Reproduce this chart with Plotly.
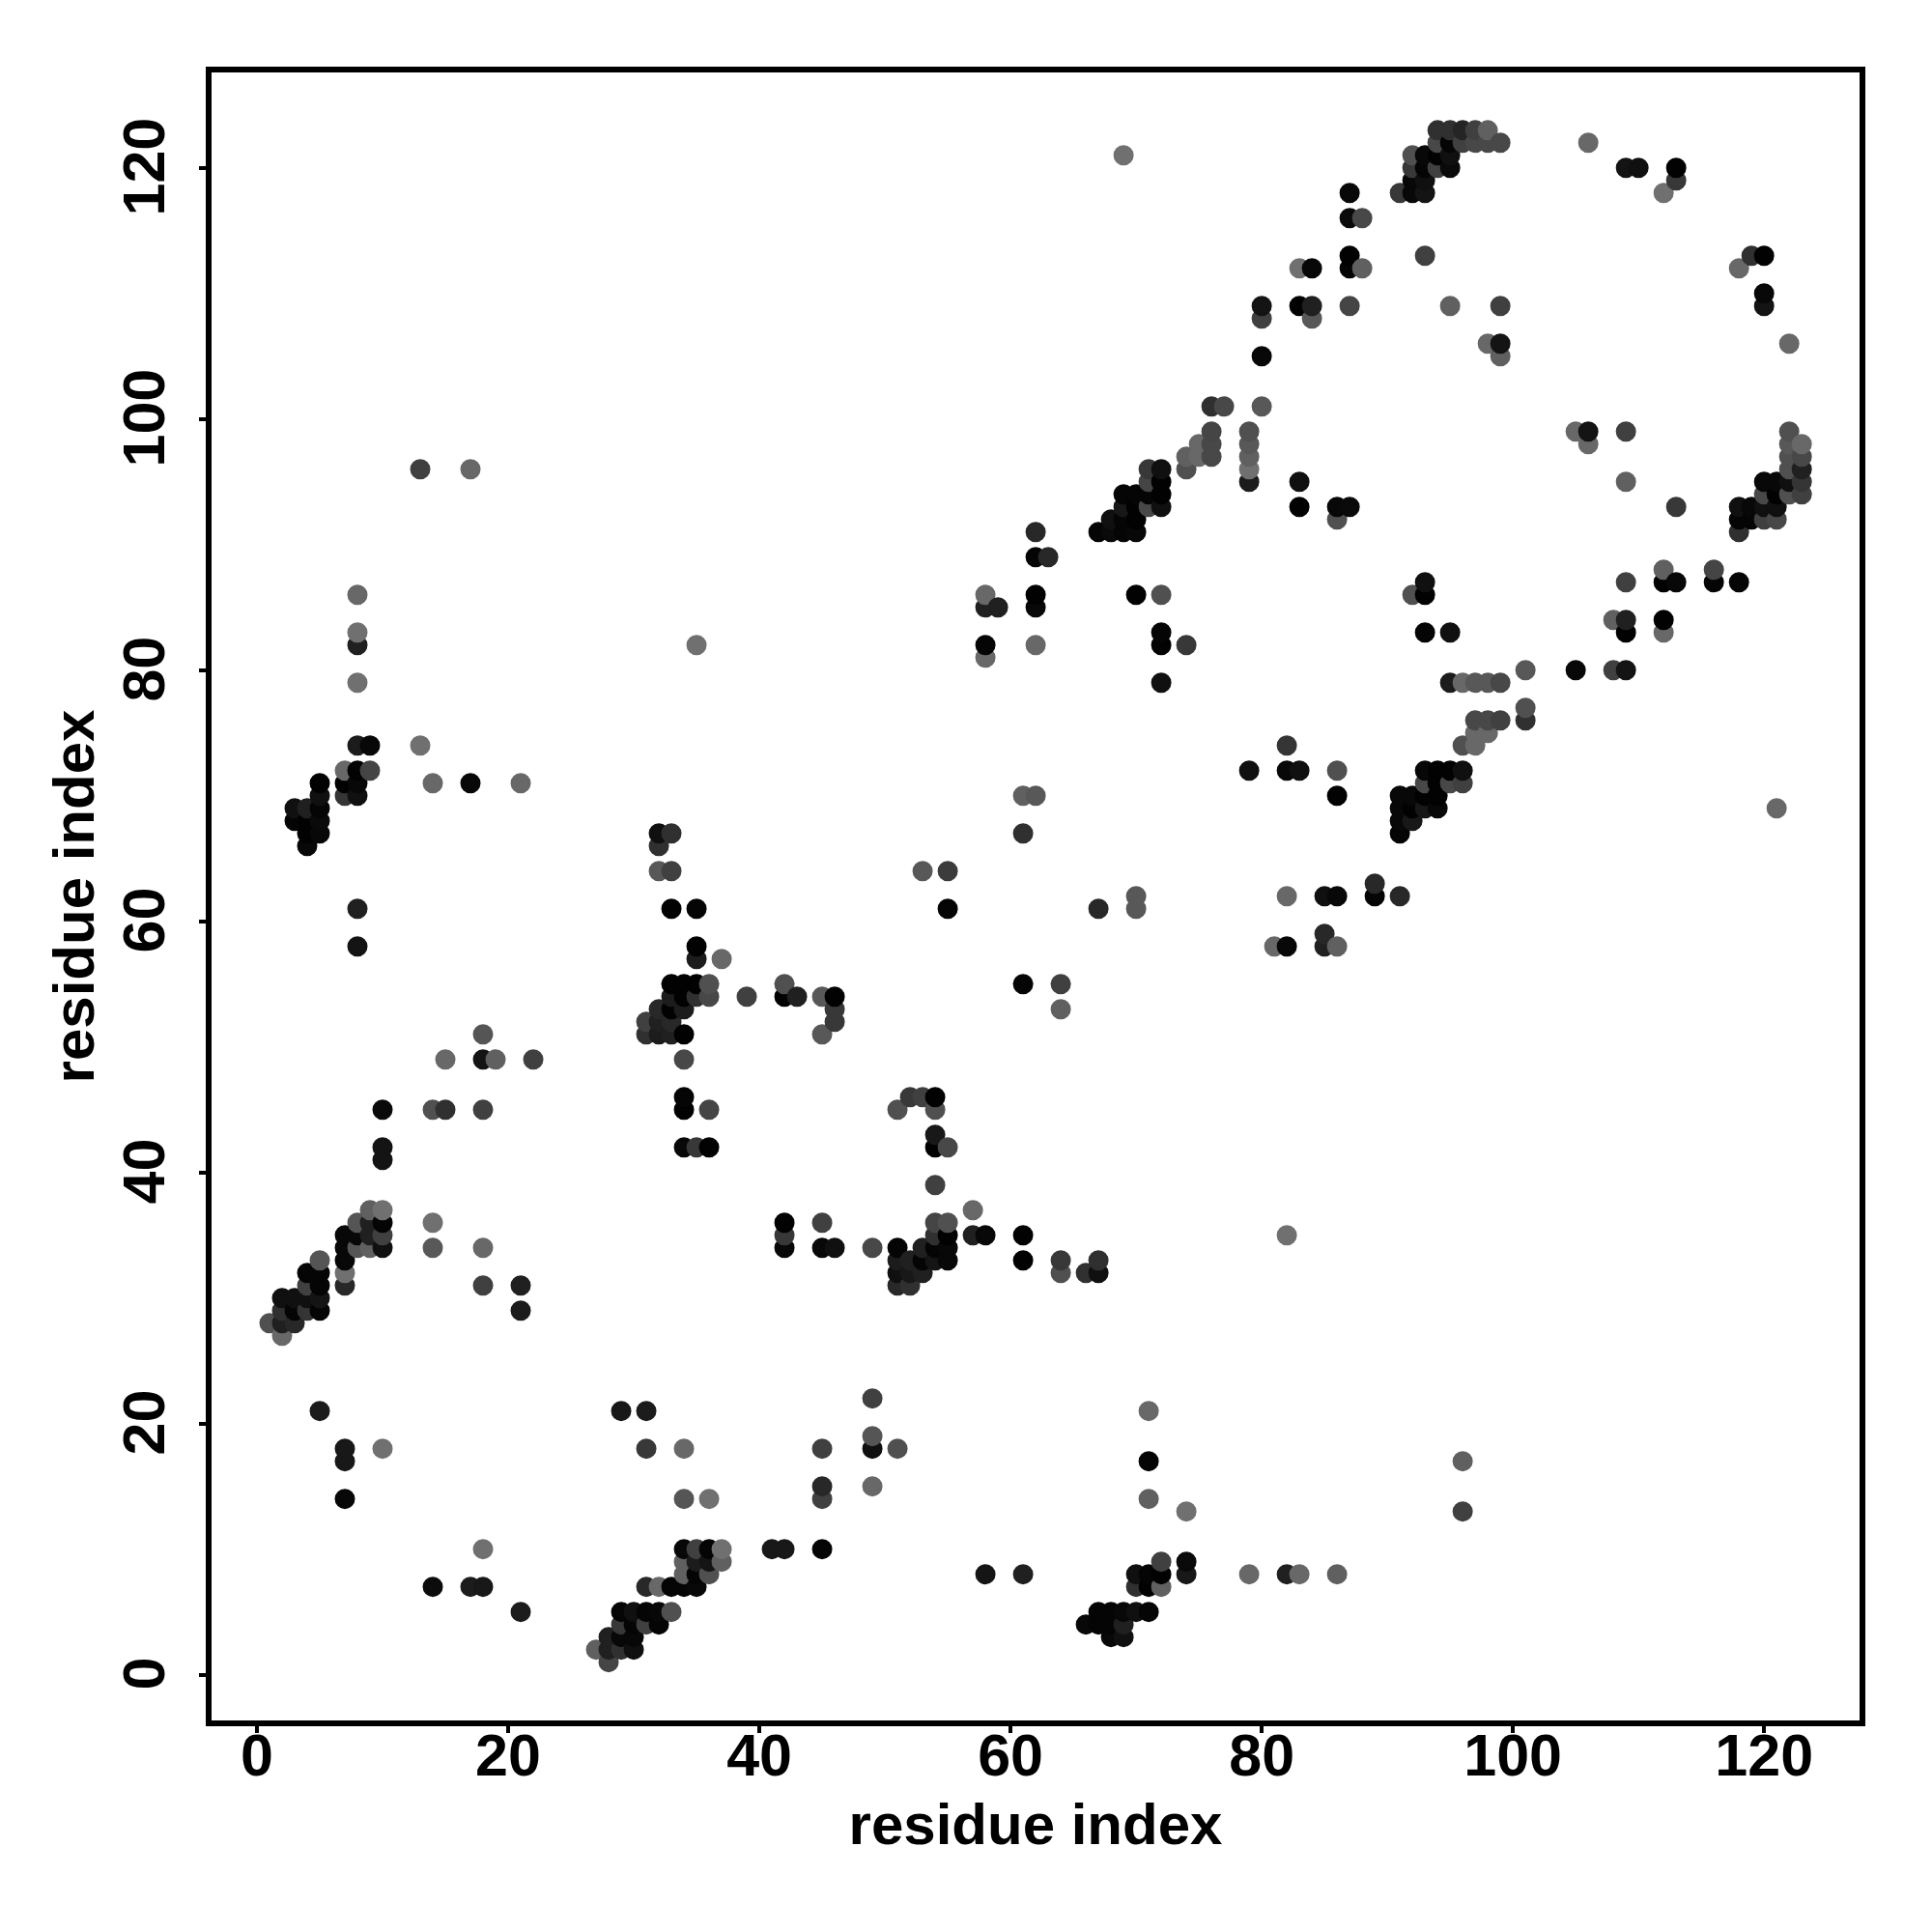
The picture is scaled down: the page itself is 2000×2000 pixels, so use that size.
import plotly.graph_objects as go

tick_values = [0, 20, 40, 60, 80, 100, 120]
axis_title = "residue index"

row_y = [123,122,121,120,119,118,116,113,112,110,109,108,106,105,101,99,98,97,96,95,94,93,92,91,89,88,87,86,85,84,83,82,81,80,79,77,76,75,74,72,71,70,69,68,67,66,64,63,62,61,59,58,57,55,54,53,52,51,49,46,45,43,42,41,39,37,36,35,34,33,32,31,30,29,28,27,22,21,19,18,17,15,14,13,10,9,8,7,5,4,3,2,1]

row_x = [
[94,95,96,97,98],
[94,95,96,97,98,99,106],
[69,92,93,94,95],
[92,93,94,95,109,110,113],
[92,93,113],
[87,91,92,93,112],
[87,88],
[87,93,119,120],
[83,84,87,88,118],
[120],
[80,83,84,87,95,99,120],
[80,84],
[98,99,122],
[80,99],
[76,77,80],
[76,79,105,106,109,122],
[75,76,79,106,122,123],
[74,75,76,79,122,123],
[13,17,71,72,74,79,122,123],
[71,72,79,83,109,120,121,122,123],
[69,70,71,72,120,121,122,123],
[69,70,71,72,83,86,87,113,118,119,120,121],
[68,69,70,86,118,119,120,121],
[62,67,68,69,70,118],
[62,63],
[112,116],
[93,109,112,113,116,118],
[8,58,62,70,72,92,93],
[58,59,62],
[108,109,112],
[8,72,93,95,109,112],
[8,35,58,62,72,74],
[58],
[101,105,108,109],
[8,72,95,96,97,98,99],
[101],
[97,98,99,101],
[97,98],
[8,9,13,82,96,97],
[7,8,9,79,82,83,86,93,94,95,96],
[5,7,8,14,17,21,93,94,95,96],
[5,7,8,61,62,86,91,92,93,94],
[3,4,5,91,92,93,94,121],
[3,4,5,91,92],
[4,5,32,33,61,91],
[4,32],
[32,33,53,55],
[89],
[70,82,85,86,89,91],
[8,33,35,55,67,70],
[85],
[8,35,81,82,85,86],
[35,37],
[33,34,35,36,42,61,64],
[33,34,35,36,39,42,43,45,46],
[32,33,34,46,64],
[31,32,33,46],
[18,31,32,33,34,45],
[15,18,19,22,34],
[34,52,53,54],
[10,14,15,18,34,36,51,54],
[54],
[10,34,35,36,54,55],
[10],
[54],
[9,10,57],
[8,9,10,14,42,45,54,55],
[7,8,9,10,42,54,55,57,58,61,82],
[7,8,9,10,14,18,42,45,46,49,51,53,54,55],
[5,7,51,52,53,54,55,61,64,67],
[4,5,7,51,52,53,64,66,67],
[4,5,7,18,21,51,52],
[2,3,4,5],
[2,3,4,5,21],
[1,2,3],
[2],
[49],
[5,29,31,71],
[49],
[7,10,31,34,45,49,51],
[7,71,96],
[45,49],
[7,34,36,45,71],
[74,96],
[18,34,35,36,37,41,42,45],
[34,35,36,37,72,74],
[34,35,36,58,61,70,71,72,74,79,82,83,86],
[14,17,18,31,32,33,34,35,70,71,72],
[21,29,30,31,32,33,67,68,69,70,71],
[29,30,31,32,66,67,68,69],
[28,29,30,68,69],
[27,28,29,30],
[28],
]

row_shade = [
[0x30,0x30,0x25,0x40,0x60],
[0x48,0x05,0x40,0x48,0x48,0x48,0x68],
[0x70,0x50,0x08,0x02,0x10],
[0x38,0x05,0x40,0x0a,0x14,0x10,0x02],
[0x08,0x10,0x38],
[0x08,0x38,0x08,0x14,0x70],
[0x0a,0x48],
[0x02,0x40,0x30,0x02],
[0x70,0x08,0x05,0x60,0x68],
[0x08],
[0x14,0x02,0x20,0x45,0x60,0x40,0x14],
[0x40,0x58],
[0x68,0x14,0x68],
[0x08,0x60],
[0x30,0x48,0x58],
[0x45,0x50,0x68,0x14,0x40,0x50],
[0x68,0x48,0x58,0x68,0x58,0x68],
[0x60,0x68,0x48,0x60,0x50,0x48],
[0x40,0x68,0x38,0x10,0x50,0x70,0x50,0x20],
[0x45,0x02,0x1c,0x10,0x60,0x08,0x08,0x10,0x35],
[0x05,0x05,0x05,0x02,0x48,0x02,0x50,0x40],
[0x18,0x02,0x48,0x10,0x02,0x08,0x0a,0x38,0x10,0x08,0x10,0x10],
[0x10,0x05,0x02,0x50,0x05,0x05,0x40,0x48],
[0x28,0x05,0x0a,0x05,0x08,0x30],
[0x05,0x28],
[0x60,0x45],
[0x10,0x40,0x02,0x08,0x05,0x05],
[0x68,0x68,0x02,0x02,0x50,0x50,0x02],
[0x20,0x20,0x08],
[0x60,0x20,0x02],
[0x70,0x05,0x05,0x10,0x02,0x68],
[0x20,0x70,0x05,0x68,0x02,0x38],
[0x68],
[0x58,0x08,0x40,0x14],
[0x70,0x10,0x1c,0x68,0x58,0x58,0x48],
[0x50],
[0x48,0x48,0x40,0x30],
[0x68,0x68],
[0x1c,0x08,0x70,0x35,0x50,0x68],
[0x68,0x02,0x45,0x10,0x08,0x10,0x50,0x08,0x02,0x02,0x10],
[0x02,0x02,0x08,0x68,0x08,0x68,0x48,0x02,0x48,0x40],
[0x10,0x35,0x10,0x60,0x58,0x02,0x08,0x08,0x02,0x02],
[0x10,0x20,0x05,0x08,0x02,0x18,0x08,0x68],
[0x05,0x02,0x0a,0x08,0x18],
[0x02,0x08,0x10,0x30,0x30,0x05],
[0x08,0x30],
[0x58,0x40,0x58,0x3c],
[0x28],
[0x58,0x68,0x10,0x08,0x05,0x28],
[0x20,0x02,0x05,0x05,0x28,0x58],
[0x28],
[0x14,0x02,0x68,0x08,0x20,0x60],
[0x1c,0x68],
[0x02,0x02,0x02,0x50,0x50,0x05,0x40],
[0x1c,0x02,0x30,0x48,0x40,0x02,0x20,0x58,0x02],
[0x28,0x02,0x1c,0x38,0x60],
[0x40,0x20,0x28,0x38],
[0x55,0x30,0x1c,0x20,0x02,0x58],
[0x68,0x14,0x60,0x40,0x48],
[0x05,0x38,0x40,0x02],
[0x0a,0x50,0x30,0x40,0x02,0x45,0x50,0x50],
[0x18],
[0x14,0x08,0x38,0x02,0x02,0x48],
[0x14],
[0x40],
[0x60,0x70,0x68],
[0x55,0x20,0x05,0x70,0x02,0x40,0x45,0x50],
[0x08,0x08,0x20,0x40,0x38,0x30,0x02,0x20,0x08,0x02,0x70],
[0x08,0x55,0x60,0x10,0x58,0x68,0x08,0x08,0x10,0x48,0x05,0x20,0x05,0x08],
[0x55,0x08,0x1c,0x20,0x05,0x15,0x08,0x02,0x38,0x30],
[0x05,0x05,0x70,0x10,0x18,0x20,0x50,0x30,0x10],
[0x40,0x05,0x28,0x40,0x20,0x28,0x30],
[0x10,0x10,0x10,0x15],
[0x30,0x05,0x35,0x05,0x1c],
[0x50,0x20,0x28],
[0x68],
[0x40],
[0x1c,0x18,0x1c,0x68],
[0x55],
[0x18,0x70,0x38,0x68,0x40,0x10,0x50],
[0x18,0x05,0x60],
[0x28,0x68],
[0x08,0x55,0x70,0x40,0x60],
[0x70,0x40],
[0x70,0x08,0x40,0x05,0x70,0x18,0x18,0x05],
[0x60,0x1c,0x15,0x60,0x40,0x0a],
[0x60,0x05,0x50,0x15,0x20,0x10,0x05,0x02,0x18,0x68,0x20,0x68,0x60],
[0x0c,0x1c,0x18,0x28,0x68,0x05,0x05,0x08,0x30,0x02,0x60],
[0x1c,0x05,0x10,0x05,0x08,0x50,0x05,0x05,0x08,0x10,0x05],
[0x38,0x05,0x40,0x05,0x08,0x05,0x05,0x20],
[0x20,0x08,0x08,0x08,0x10],
[0x60,0x20,0x30,0x10],
[0x45],
]

assert len(row_y) == len(row_x) == len(row_shade)
points = []
for y, xs, shades in zip(row_y, row_x, row_shade):
    assert len(xs) == len(shades), y
    for x, s in zip(xs, shades):
        points.append((x, y, s))
points.sort()

FONT = "Liberation Sans"
fig = go.Figure(go.Scatter(
    x=[p[0] for p in points],
    y=[p[1] for p in points],
    mode="markers",
    marker=dict(size=18.5, color=[f"rgb({p[2]},{p[2]},{p[2]})" for p in points],
                line=dict(width=2.5, color=[f"rgb({p[2]},{p[2]},{p[2]})" for p in points])),
    hoverinfo="skip",
    cliponaxis=False,
))

axis_common = dict(
    tickmode="array", tickvals=tick_values, ticktext=[str(v) for v in tick_values],
    ticks="outside", ticklen=7, tickwidth=4, tickcolor="black",
    showline=True, linecolor="black", linewidth=6, mirror=True,
    showgrid=False, zeroline=False,
    tickfont=dict(family=FONT, size=61, color="black", weight="bold"),
)

fig.update_layout(
    width=2000, height=2000, paper_bgcolor="white", plot_bgcolor="white",
    margin=dict(l=211, r=83, t=67, b=227, autoexpand=False),
    showlegend=False,
    xaxis=dict(range=[-3.615, 127.6], automargin=False, ticklabelstandoff=-29,
               title=dict(text="<b>" + axis_title + "</b>", font=dict(family=FONT, size=60, color="black"), standoff=19),
               **axis_common),
    yaxis=dict(range=[-3.64, 127.6], automargin=False, tickangle=-90, ticklabelstandoff=12, ticklabelshift=8,
               title=dict(text="<b>" + axis_title + "</b>", font=dict(family=FONT, size=60, color="black"), standoff=0),
               **axis_common),
)
fig.write_html("out.html")
